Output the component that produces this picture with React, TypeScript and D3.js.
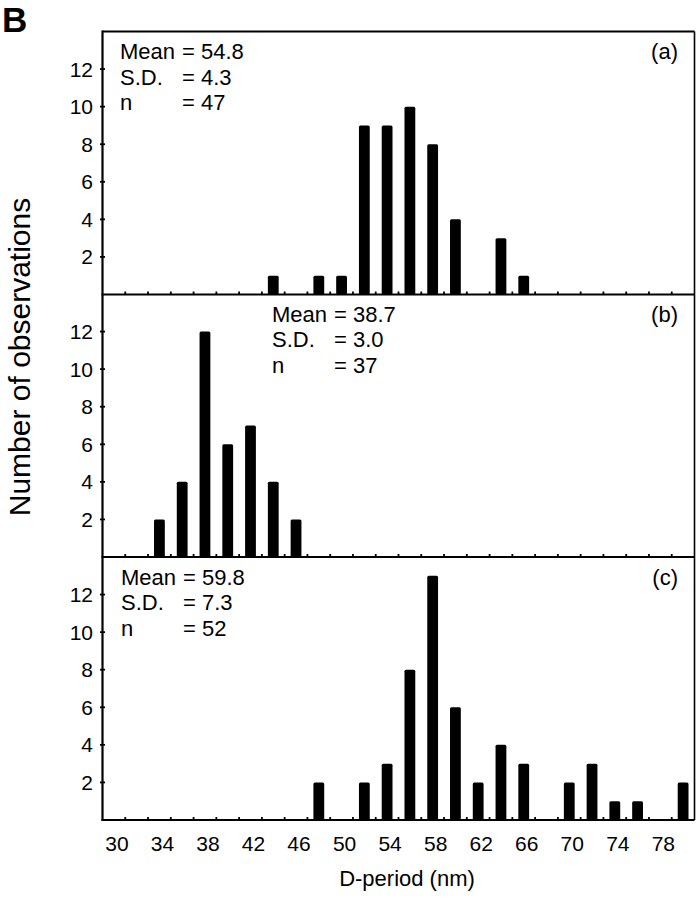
import React from "react";
import * as d3 from "d3";

// ---- data ----
const binsA = [44, 48, 50, 52, 54, 56, 58, 60, 64, 66];
const countsA = [1, 1, 1, 9, 9, 10, 8, 4, 3, 1];
const binsB = [34, 36, 38, 40, 42, 44, 46];
const countsB = [2, 4, 12, 6, 7, 4, 2];
const binsC = [48, 52, 54, 56, 58, 60, 62, 64, 66, 70, 72, 74, 76, 80];
const countsC = [2, 2, 3, 8, 13, 6, 2, 4, 3, 2, 3, 1, 1, 2];
const panelLabels = ["(a)", "(b)", "(c)"];
const statNames = ["Mean", "S.D.", "n"];
const statsA = ["54.8", "4.3", "47"];
const statsB = ["38.7", "3.0", "37"];
const statsC = ["59.8", "7.3", "52"];
const xTickLabels = [30, 34, 38, 42, 46, 50, 54, 58, 62, 66, 70, 74, 78];
const xMinorTicks = d3.range(31, 80, 2);
const yTickLabels = [2, 4, 6, 8, 10, 12];
const xDomain = [29, 81];
const yDomain = [0, 14];

const FONT = "'Liberation Sans', Arial, Helvetica, sans-serif";

export default function App() {
  const W = 697, H = 899;
  const left = 102.5, right = 694.5;
  const panelH = 263;
  const tops = [31.5, 294, 557];
  const x = d3.scaleLinear().domain(xDomain).range([left, right]);
  const barW = 10.8;

  const panels = [
    { bins: binsA, counts: countsA, stats: statsA, tx: 120 },
    { bins: binsB, counts: countsB, stats: statsB, tx: 272 },
    { bins: binsC, counts: countsC, stats: statsC, tx: 121 },
  ];

  const bottomAll = tops[2] + panelH;

  return (
    <svg
      width={W}
      height={H}
      style={{ position: "absolute", left: 0, top: 0, background: "#fff" }}
      fontFamily={FONT}
    >
      <rect x={0} y={0} width={W} height={H} fill="#fff" />
      <text x={2} y={32} fontSize={35} fontWeight="bold" fill="#000">B</text>

      {panels.map((p, i) => {
        const top = tops[i];
        const bottom = top + panelH;
        const y = d3.scaleLinear().domain(yDomain).range([bottom, top]);
        return (
          <g key={i}>
            {p.bins.map((b, j) => (
              <rect
                key={j}
                x={x(b) - barW / 2}
                y={y(p.counts[j])}
                width={barW}
                height={bottom - y(p.counts[j])}
                rx={1.5}
                fill="#000"
              />
            ))}
            {xMinorTicks.map((t) => (
              <line key={t} x1={x(t)} x2={x(t)} y1={bottom} y2={bottom - 3} stroke="#000" strokeWidth={1.8} />
            ))}
            <line x1={left - 1} x2={right} y1={bottom} y2={bottom} stroke="#000" strokeWidth={2.2} />
            {yTickLabels.map((t) => (
              <g key={t}>
                <line x1={left - 2.5} x2={left + 2.5} y1={y(t)} y2={y(t)} stroke="#000" strokeWidth={1.8} />
                <text x={93} y={y(t)} dy="0.36em" textAnchor="end" fontSize={21} fill="#000">{t}</text>
              </g>
            ))}
            {statNames.map((s, k) => (
              <g key={s}>
                <text x={p.tx} y={top + 27.5 + k * 25.5} fontSize={22} fill="#000">{s}</text>
                <text x={p.tx + 62} y={top + 27.5 + k * 25.5} fontSize={22} fill="#000">{"= " + p.stats[k]}</text>
              </g>
            ))}
            <text x={678} y={top + 27.5} textAnchor="end" fontSize={22} fill="#000">{panelLabels[i]}</text>
          </g>
        );
      })}

      <line x1={left} x2={right} y1={tops[0]} y2={tops[0]} stroke="#000" strokeWidth={2} />
      <line x1={right} x2={right} y1={tops[0]} y2={bottomAll} stroke="#000" strokeWidth={1.6} />
      <line x1={left} x2={left} y1={tops[0] - 1} y2={bottomAll + 1} stroke="#000" strokeWidth={2.2} />

      {xTickLabels.map((t) => (
        <text key={t} x={x(t) + 3} y={851} textAnchor="middle" fontSize={21} fill="#000">{t}</text>
      ))}
      <text x={407} y={886} textAnchor="middle" fontSize={22} fill="#000">D-period (nm)</text>
      <text
        transform={`translate(30, 357) rotate(-90)`}
        textAnchor="middle"
        fontSize={30}
        fill="#000"
      >
        Number of observations
      </text>
    </svg>
  );
}
